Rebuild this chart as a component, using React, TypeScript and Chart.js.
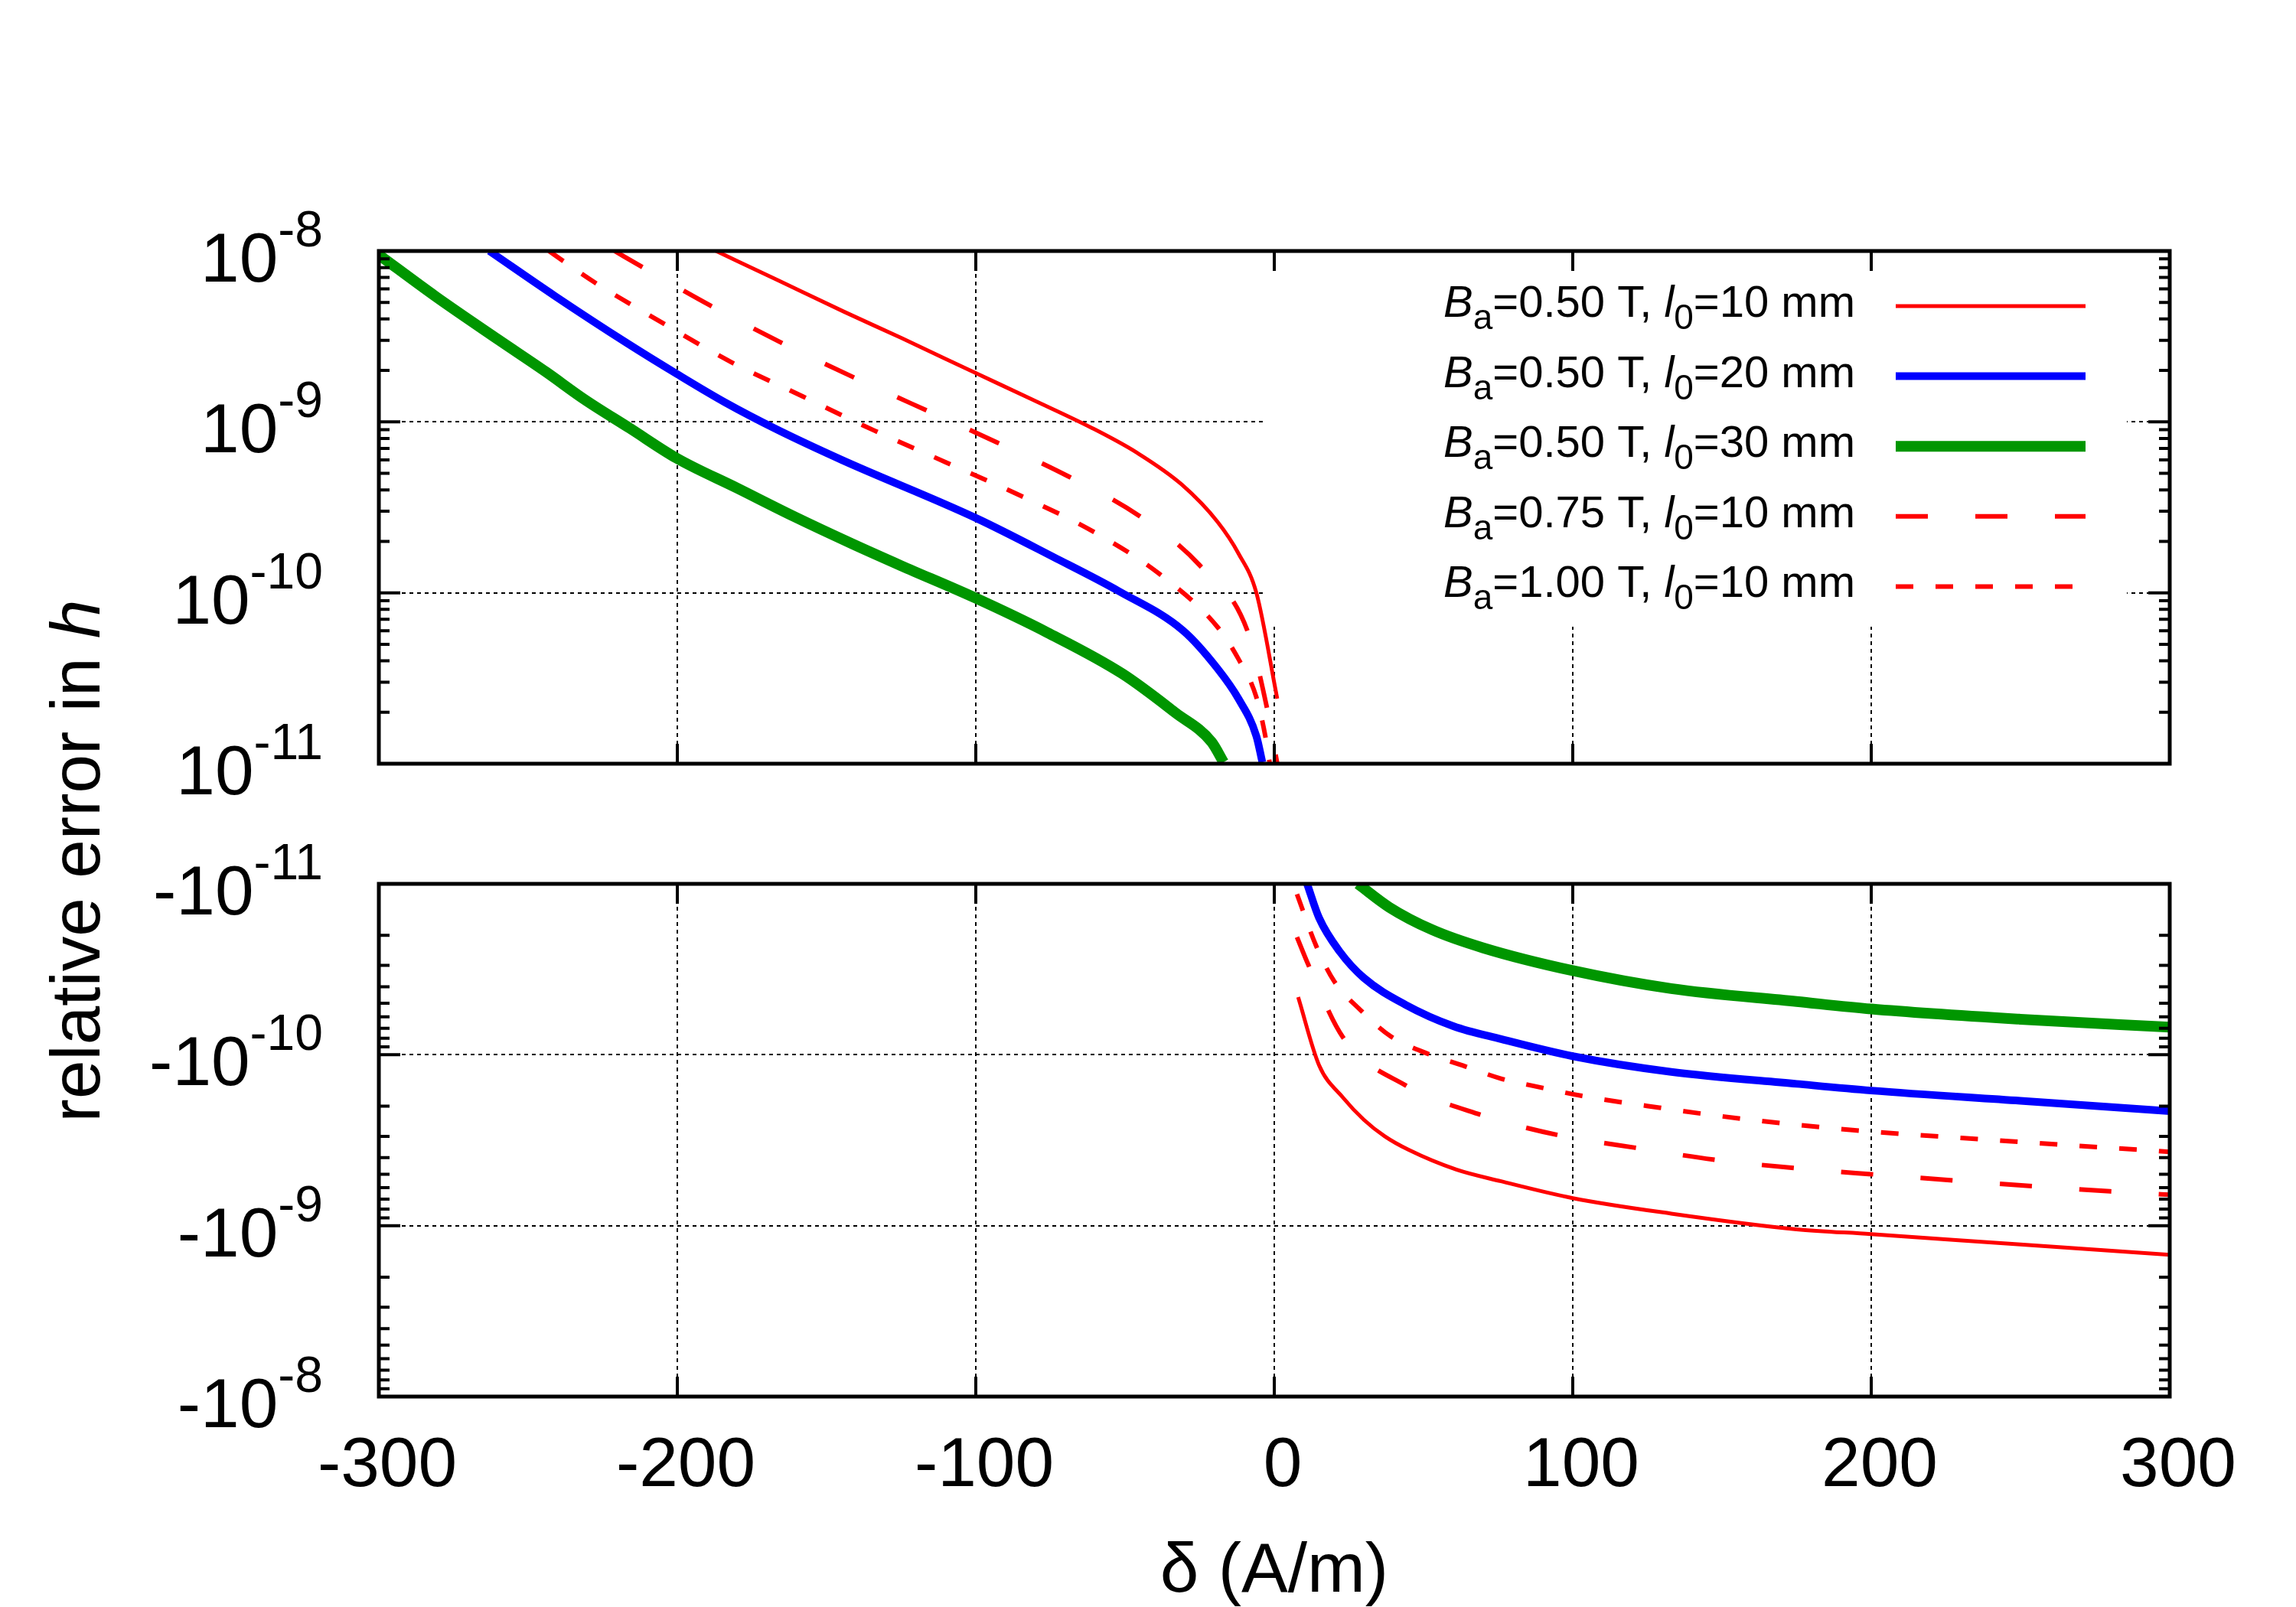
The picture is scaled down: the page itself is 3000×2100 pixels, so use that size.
import React, { useEffect, useRef } from "react";
import { Chart, registerables } from "chart.js";

Chart.register(...registerables);

const W = 3000;
const H = 2100;
const FONT = '"Liberation Sans", Arial, Helvetica, sans-serif';

// x axis
const xTicks = [-300, -200, -100, 0, 100, 200, 300];

// y axis decades and exponent labels
const upperDecades = [1e-8, 1e-9, 1e-10, 1e-11];
const upperExponents = ["-8", "-9", "-10", "-11"];
const lowerDecades = [1e-11, 1e-10, 1e-9, 1e-8];
const lowerExponents = ["-11", "-10", "-9", "-8"];
const minorSteps = [2, 3, 4, 5, 6, 7, 8, 9];

// legend text
const legendBa = ["0.50", "0.50", "0.50", "0.75", "1.00"];
const legendL0 = ["10", "20", "30", "10", "10"];

// upper panel: positive relative error
const redSolidUpX = [-187, -166, -144, -125, -100, -81, -61, -46, -31, -19, -12, -6, 1];
const redSolidUpY = [1.0e-8, 6.7e-9, 4.4e-9, 3.1e-9, 1.93e-9, 1.35e-9, 9.2e-10, 6.6e-10, 4.3e-10, 2.6e-10, 1.7e-10, 1.0e-10, 2.4e-11];
const blueUpX = [-263, -241, -217, -200, -184, -166.5, -145, -100, -74, -52, -30.5, -19, -12, -6, -4];
const blueUpY = [1.0e-8, 5.45e-9, 2.9e-9, 1.9e-9, 1.3e-9, 9.0e-10, 6.0e-10, 2.74e-10, 1.62e-10, 1.02e-10, 6.0e-11, 3.6e-11, 2.4e-11, 1.45e-11, 1.02e-11];
const greenUpX = [-300, -281, -260, -244, -231, -216, -200, -180, -161, -141, -125, -100, -76, -51, -33, -21, -17];
const greenUpY = [9.5e-9, 5.42e-9, 3.03e-9, 1.96e-9, 1.35e-9, 9.2e-10, 6.1e-10, 4.1e-10, 2.8e-10, 1.92e-10, 1.44e-10, 9.3e-11, 5.85e-11, 3.37e-11, 1.98e-11, 1.34e-11, 1.02e-11];
const dashUpX = [-221, -212, -189, -165, -142, -122, -93, -69, -45, -25, -9, -2.4, 1];
const dashUpY = [1.0e-8, 8.1e-9, 4.8e-9, 2.9e-9, 1.86e-9, 1.29e-9, 7.6e-10, 4.8e-10, 2.8e-10, 1.45e-10, 6.0e-11, 2.1e-11, 1.0e-11];
const dotUpX = [-243, -228, -205, -182, -158, -134, -110, -85, -61, -38.5, -19, -12, -6, -3, -1.5];
const dotUpY = [1.0e-8, 6.6e-9, 3.8e-9, 2.24e-9, 1.41e-9, 8.9e-10, 5.8e-10, 3.7e-10, 2.3e-10, 1.29e-10, 6.3e-11, 4.1e-11, 2.45e-11, 1.45e-11, 1.0e-11];

// lower panel: magnitude of negative relative error
const redSolidLowX = [8, 15, 23, 30, 37, 45, 61, 76, 100, 133, 175, 200, 250, 300];
const redSolidLowY = [4.6e-11, 1.15e-10, 1.78e-10, 2.4e-10, 3.0e-10, 3.6e-10, 4.7e-10, 5.5e-10, 6.9e-10, 8.5e-10, 1.05e-9, 1.12e-9, 1.29e-9, 1.48e-9];
const blueLowX = [11, 15, 22, 30, 44, 60, 76, 100, 133, 175, 200, 250, 300];
const blueLowY = [1.0e-11, 1.58e-11, 2.5e-11, 3.55e-11, 5.1e-11, 6.8e-11, 8.1e-11, 1.02e-10, 1.26e-10, 1.48e-10, 1.62e-10, 1.86e-10, 2.14e-10];
const greenLowX = [28, 38.5, 53, 70, 100, 133, 175, 200, 250, 300];
const greenLowY = [1.0e-11, 1.37e-11, 1.86e-11, 2.37e-11, 3.22e-11, 4.1e-11, 4.88e-11, 5.4e-11, 6.2e-11, 6.9e-11];
const dashLowX = [7.6, 11.5, 23, 44, 69, 95, 121, 147, 174, 200, 280, 300];
const dashLowY = [2.05e-11, 3.0e-11, 7.9e-11, 1.51e-10, 2.24e-10, 2.95e-10, 3.5e-10, 4.1e-10, 4.6e-10, 5.0e-10, 6.3e-10, 6.6e-10];
const dotLowX = [7.6, 14, 20, 29, 39, 51, 64, 76, 89, 103, 129, 155, 193, 246, 300];
const dotLowY = [1.15e-11, 2.3e-11, 3.7e-11, 5.5e-11, 7.8e-11, 9.8e-11, 1.17e-10, 1.38e-10, 1.55e-10, 1.74e-10, 2.04e-10, 2.35e-10, 2.75e-10, 3.2e-10, 3.7e-10];

const styles = [
  { color: "#ff0000", width: 5, dash: [] as number[] },
  { color: "#0000ff", width: 10, dash: [] as number[] },
  { color: "#009600", width: 14, dash: [] as number[] },
  { color: "#ff0000", width: 6, dash: [42, 62] },
  { color: "#ff0000", width: 6, dash: [23, 29] },
];

const toPoints = (xs: number[], ys: number[]) => xs.map((x, i) => ({ x, y: ys[i] }));

const upperSeries = [
  toPoints(redSolidUpX, redSolidUpY),
  toPoints(blueUpX, blueUpY),
  toPoints(greenUpX, greenUpY),
  toPoints(dashUpX, dashUpY),
  toPoints(dotUpX, dotUpY),
];
const lowerSeries = [
  toPoints(redSolidLowX, redSolidLowY),
  toPoints(blueLowX, blueLowY),
  toPoints(greenLowX, greenLowY),
  toPoints(dashLowX, dashLowY),
  toPoints(dotLowX, dotLowY),
];

// plot frame with inward major/minor ticks, like gnuplot
const framePlugin = (decades: number[]) => ({
  id: "frame",
  afterDatasetsDraw(chart: any) {
    const { ctx, chartArea: a } = chart;
    const xs = chart.scales.x;
    const ys = chart.scales.y;
    ctx.save();
    ctx.strokeStyle = "#000";
    ctx.lineWidth = 4;
    ctx.setLineDash([]);
    ctx.beginPath();
    xTicks.forEach((v) => {
      const p = xs.getPixelForValue(v);
      ctx.moveTo(p, a.top);
      ctx.lineTo(p, a.top + 26);
      ctx.moveTo(p, a.bottom);
      ctx.lineTo(p, a.bottom - 26);
    });
    const lo = Math.min(...decades);
    const hi = Math.max(...decades);
    decades.forEach((d) => {
      const p = ys.getPixelForValue(d);
      ctx.moveTo(a.left, p);
      ctx.lineTo(a.left + 28, p);
      ctx.moveTo(a.right, p);
      ctx.lineTo(a.right - 28, p);
      if (d >= lo && d < hi) {
        minorSteps.forEach((k) => {
          const q = ys.getPixelForValue(k * d);
          ctx.moveTo(a.left, q);
          ctx.lineTo(a.left + 14, q);
          ctx.moveTo(a.right, q);
          ctx.lineTo(a.right - 14, q);
        });
      }
    });
    ctx.stroke();
    ctx.lineWidth = 5;
    ctx.strokeRect(a.left, a.top, a.right - a.left, a.bottom - a.top);
    ctx.restore();
  },
});

// y tick labels with superscript exponents
const yLabelPlugin = (decades: number[], exps: string[], base: string) => ({
  id: "ylabels",
  afterDraw(chart: any) {
    const { ctx } = chart;
    const ys = chart.scales.y;
    const right = 422;
    ctx.save();
    ctx.fillStyle = "#000";
    ctx.textAlign = "left";
    ctx.textBaseline = "alphabetic";
    decades.forEach((d, i) => {
      const p = ys.getPixelForValue(d);
      ctx.font = `91px ${FONT}`;
      const wb = ctx.measureText(base).width;
      ctx.font = `66px ${FONT}`;
      const we = ctx.measureText(exps[i]).width;
      ctx.font = `91px ${FONT}`;
      ctx.fillText(base, right - we - wb, p + 40);
      ctx.font = `66px ${FONT}`;
      ctx.fillText(exps[i], right - we, p - 6);
    });
    ctx.restore();
  },
});

// opaque key box in the upper panel
const keyPlugin = {
  id: "key",
  beforeDatasetsDraw(chart: any) {
    const { ctx, chartArea: a } = chart;
    ctx.save();
    ctx.fillStyle = "#fff";
    ctx.fillRect(1651, a.top + 3, 2779 - 1651, 819 - a.top - 3);
    ctx.restore();
  },
  afterDatasetsDraw(chart: any) {
    const { ctx } = chart;
    ctx.save();
    chart.data.datasets.forEach((ds: any, i: number) => {
      const y = 400 + i * 91.6;
      ctx.strokeStyle = ds.borderColor;
      ctx.lineWidth = ds.borderWidth;
      ctx.setLineDash(ds.borderDash || []);
      ctx.lineCap = "butt";
      ctx.beginPath();
      ctx.moveTo(2477, y);
      ctx.lineTo(2725, y);
      ctx.stroke();
      ctx.setLineDash([]);
      const parts = [
        { t: "B", f: `italic 58px ${FONT}`, dy: 0 },
        { t: "a", f: `46px ${FONT}`, dy: 16 },
        { t: `=${legendBa[i]} T, `, f: `58px ${FONT}`, dy: 0 },
        { t: "l", f: `italic 58px ${FONT}`, dy: 0 },
        { t: "0", f: `46px ${FONT}`, dy: 16 },
        { t: `=${legendL0[i]} mm`, f: `58px ${FONT}`, dy: 0 },
      ];
      let total = 0;
      parts.forEach((pt) => {
        ctx.font = pt.f;
        total += ctx.measureText(pt.t).width;
      });
      let x = 2424 - total;
      ctx.fillStyle = "#000";
      ctx.textAlign = "left";
      ctx.textBaseline = "alphabetic";
      parts.forEach((pt) => {
        ctx.font = pt.f;
        ctx.fillText(pt.t, x, y + 14 + pt.dy);
        x += ctx.measureText(pt.t).width;
      });
    });
    ctx.restore();
  },
};

// y axis title shared by both panels
const yTitlePlugin = {
  id: "ytitle",
  afterDraw(chart: any) {
    const { ctx } = chart;
    ctx.save();
    ctx.translate(130, 1125);
    ctx.rotate(-Math.PI / 2);
    ctx.fillStyle = "#000";
    ctx.textAlign = "left";
    ctx.textBaseline = "alphabetic";
    const t1 = "relative error in ";
    ctx.font = `91px ${FONT}`;
    const w1 = ctx.measureText(t1).width;
    ctx.font = `italic 91px ${FONT}`;
    const w2 = ctx.measureText("h").width;
    const x0 = -(w1 + w2) / 2;
    ctx.font = `91px ${FONT}`;
    ctx.fillText(t1, x0, 0);
    ctx.font = `italic 91px ${FONT}`;
    ctx.fillText("h", x0 + w1, 0);
    ctx.restore();
  },
};

function makeConfig(lower: boolean): any {
  const series = lower ? lowerSeries : upperSeries;
  const decades = lower ? lowerDecades : upperDecades;
  const exps = lower ? lowerExponents : upperExponents;
  return {
    type: "line",
    data: {
      datasets: series.map((pts, i) => ({
        label: `Ba=${legendBa[i]} T, l0=${legendL0[i]} mm`,
        data: pts,
        borderColor: styles[i].color,
        borderWidth: styles[i].width,
        borderDash: styles[i].dash,
        borderCapStyle: "butt",
        borderJoinStyle: "round",
        pointRadius: 0,
        fill: false,
        cubicInterpolationMode: "monotone",
        clip: 0,
        order: 5 - i,
      })),
    },
    options: {
      animation: false,
      responsive: true,
      maintainAspectRatio: false,
      devicePixelRatio: 1,
      events: [],
      layout: {
        padding: lower
          ? { left: 0, top: 1155, right: 165, bottom: 0 }
          : { left: 0, top: 328, right: 165, bottom: 1102 },
      },
      plugins: { legend: { display: false }, tooltip: { enabled: false } },
      scales: {
        x: {
          type: "linear",
          position: "bottom",
          min: -300,
          max: 300,
          afterBuildTicks: (ax: any) => {
            ax.ticks = xTicks.map((v) => ({ value: v }));
          },
          afterFit: (ax: any) => {
            ax.height = lower ? 275 : 0;
          },
          grid: {
            drawTicks: false,
            lineWidth: 2,
            color: (c: any) =>
              c.tick && Math.abs(c.tick.value) === 300 ? "rgba(0,0,0,0)" : "#000",
          },
          border: { display: false, dash: [5, 5] },
          ticks: {
            display: lower,
            color: "#000",
            font: { family: FONT, size: 91, lineHeight: 1 },
            padding: 46,
            labelOffset: 11,
            maxRotation: 0,
            autoSkip: false,
            callback: (v: any) => String(v),
          },
          title: {
            display: lower,
            text: "δ (A/m)",
            color: "#000",
            font: { family: FONT, size: 91, lineHeight: 1 },
            padding: { top: 0, bottom: 0 },
          },
        },
        y: {
          type: "logarithmic",
          position: "left",
          min: 1e-11,
          max: 1e-8,
          reverse: lower,
          afterBuildTicks: (ax: any) => {
            ax.ticks = decades.map((v) => ({ value: v }));
          },
          afterFit: (ax: any) => {
            ax.width = 495;
          },
          grid: {
            drawTicks: false,
            lineWidth: 2,
            color: (c: any) =>
              c.tick && (c.tick.value <= 1.0001e-11 || c.tick.value >= 0.9999e-8)
                ? "rgba(0,0,0,0)"
                : "#000",
          },
          border: { display: false, dash: [5, 5] },
          ticks: { display: false },
        },
      },
    },
    plugins: lower
      ? [framePlugin(decades), yLabelPlugin(decades, exps, "-10"), yTitlePlugin]
      : [keyPlugin, framePlugin(decades), yLabelPlugin(decades, exps, "10")],
  };
}

function Panel({ lower }: { lower: boolean }) {
  const canvasRef = useRef<HTMLCanvasElement | null>(null);

  useEffect(() => {
    if (!canvasRef.current) return;
    const chart = new Chart(canvasRef.current, makeConfig(lower));
    return () => {
      chart.destroy();
    };
  }, [lower]);

  return (
    <div style={{ position: "absolute", left: 0, top: 0, width: W, height: H }}>
      <canvas ref={canvasRef} />
    </div>
  );
}

export default function App() {
  return (
    <div
      style={{
        position: "absolute",
        left: 0,
        top: 0,
        width: W,
        height: H,
        background: "#fff",
        overflow: "hidden",
      }}
    >
      <Panel lower={false} />
      <Panel lower={true} />
    </div>
  );
}
